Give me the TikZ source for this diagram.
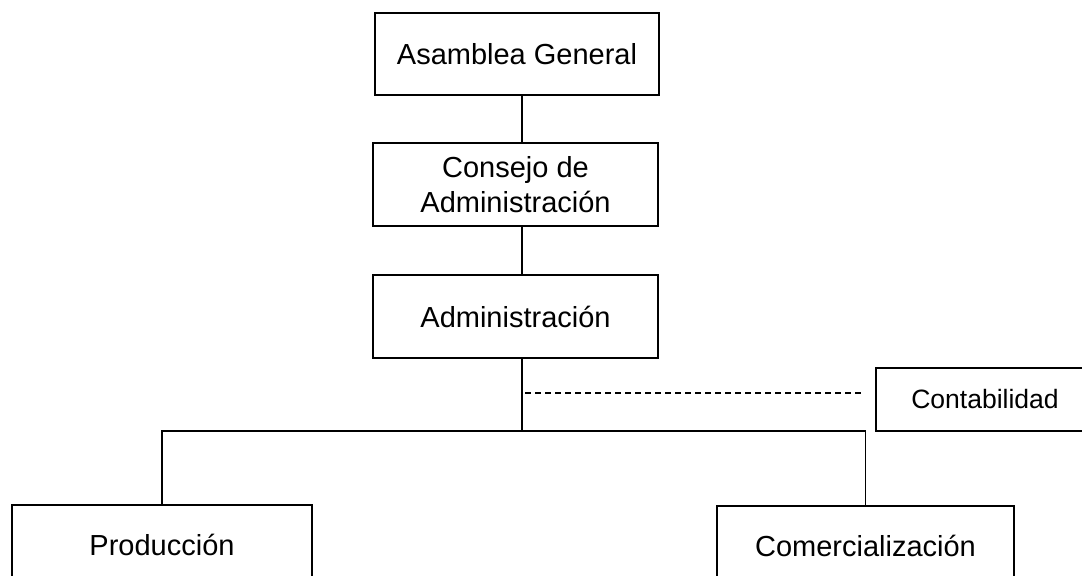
\documentclass[tikz,border=0pt]{standalone}
\usepackage{fontspec}
\setmainfont{Liberation Sans}
\begin{document}
\begin{tikzpicture}[x=0.75pt,y=-0.75pt,
  orgbox/.style={draw, line width=0.9pt, inner sep=0pt, align=center,
    font=\fontsize{21.75}{26.25}\selectfont},
  conn/.style={line width=0.9pt},
  dashconn/.style={line width=0.8pt, dash pattern=on 4.5pt off 3pt}]
\useasboundingbox (0,0) rectangle (1082,575);
\fill[white] (0,0) rectangle (1082,575);
\node[orgbox, minimum width=284*0.75pt, minimum height=82*0.75pt] (ag) at (517,54) {Asamblea General};
\node[orgbox, minimum width=285*0.75pt, minimum height=83*0.75pt] (cons) at (515.5,184.5) {Consejo de\\Administración};
\node[orgbox, minimum width=285*0.75pt, minimum height=83*0.75pt] (adm) at (515.5,316.5) {Administración};
\node[orgbox, minimum width=218*0.75pt, minimum height=63*0.75pt, font=\fontsize{19.9}{24}\selectfont] (cont) at (985,399.5) {Contabilidad};
\node[orgbox, minimum width=300*0.75pt, minimum height=80*0.75pt] (prod) at (162,545) {Producción};
\node[orgbox, minimum width=297*0.75pt, minimum height=80*0.75pt] (com) at (865.5,546) {Comercialización};
\coordinate (spine) at (522,431);
\coordinate (dashend) at (865,393);
\draw[conn] (spine |- ag.south) -- (spine |- cons.north);
\draw[conn] (spine |- cons.south) -- (spine |- adm.north);
\draw[conn] (spine |- adm.south) -- (spine);
\draw[conn] (prod.north) |- (spine) -| (com.north);
\draw[dashconn] (spine |- dashend) ++(3,0) -- (dashend);
\end{tikzpicture}
\end{document}
